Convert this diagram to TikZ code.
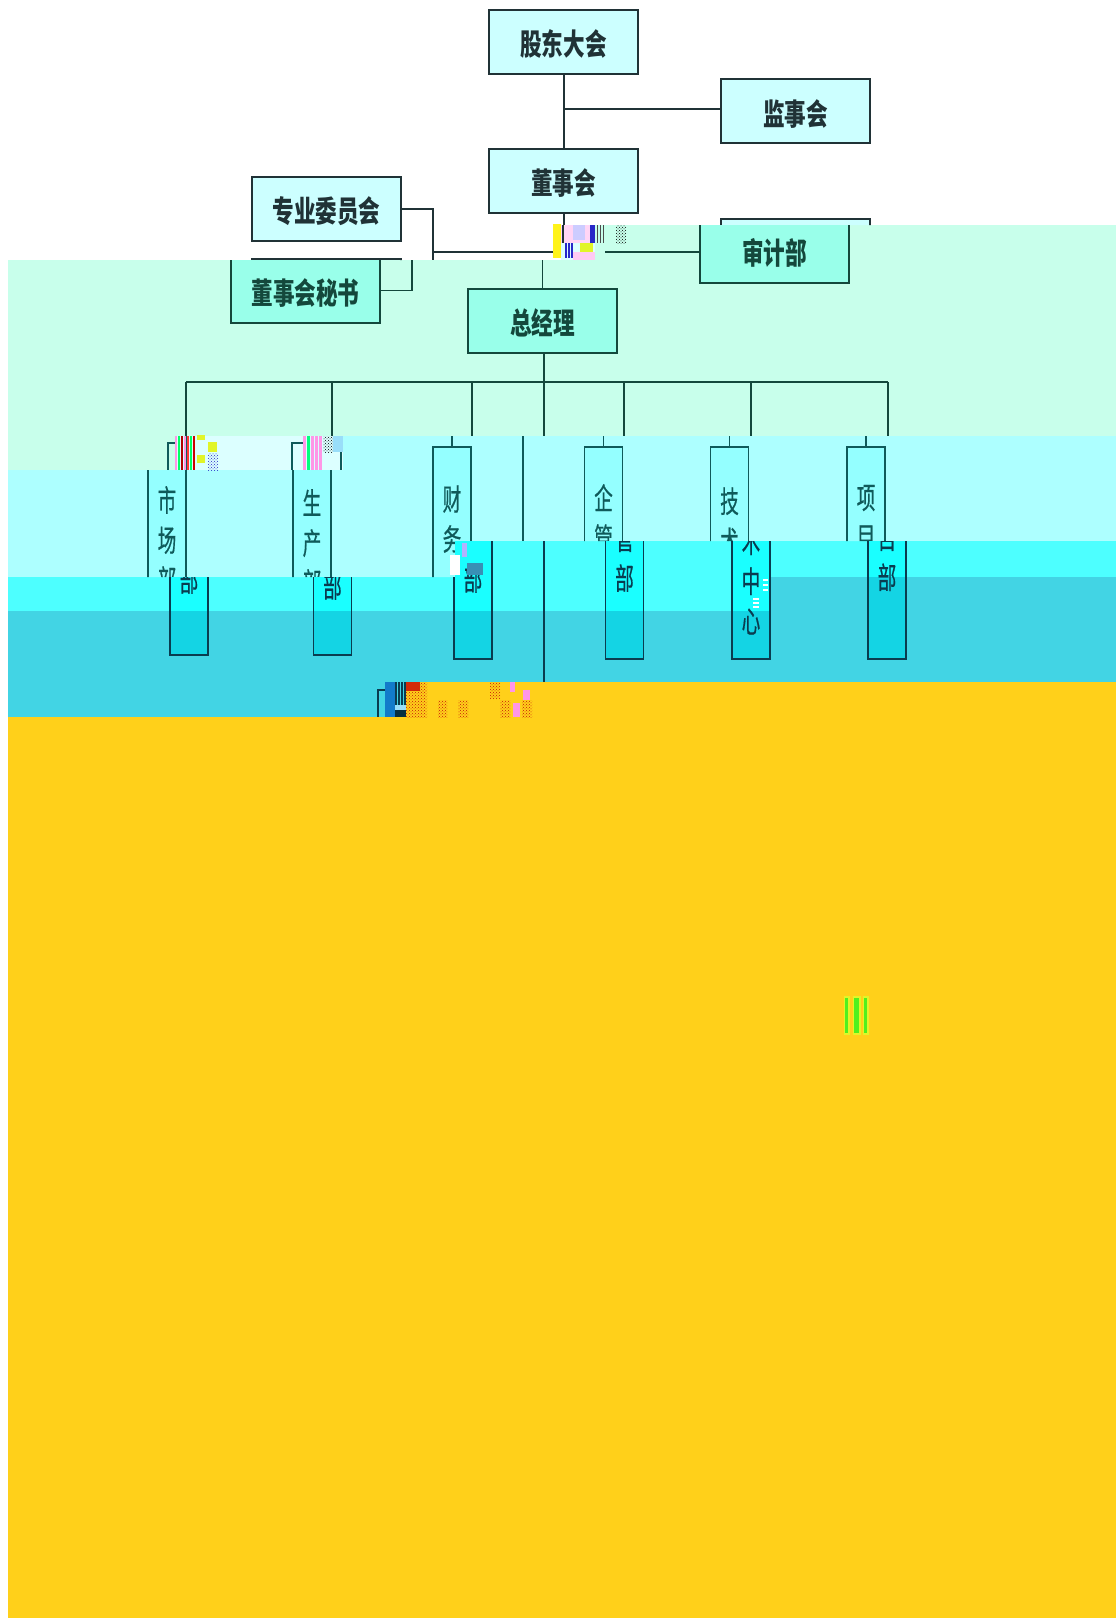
\documentclass[tikz,border=0pt]{standalone}
\usepackage{fontspec}
\usetikzlibrary{patterns}
\newfontfamily\cjkwide[FakeStretch=0.72]{Noto Sans CJK SC}
\newfontfamily\cjknarrow[FakeStretch=0.62,FakeBold=0.5]{Noto Sans CJK SC}
\definecolor{topfill}{RGB}{204,255,255}
\definecolor{mintband}{RGB}{200,255,235}
\definecolor{mintfill}{RGB}{153,255,234}
\definecolor{paleband}{RGB}{173,255,255}
\definecolor{paleglow}{RGB}{220,255,255}
\definecolor{palefill}{RGB}{148,255,255}
\definecolor{brightband}{RGB}{77,255,255}
\definecolor{brightfill}{RGB}{26,255,255}
\definecolor{darkband}{RGB}{66,212,228}
\definecolor{darkfill}{RGB}{20,212,228}
\definecolor{yellowband}{RGB}{255,208,26}
\definecolor{topink}{RGB}{32,50,54}
\definecolor{mintink}{RGB}{20,72,60}
\definecolor{paleink}{RGB}{15,90,90}
\definecolor{lowink}{RGB}{10,60,80}
\definecolor{noisered}{RGB}{200,20,10}
\definecolor{noisepink}{RGB}{255,150,230}
\definecolor{noisegreen}{RGB}{80,240,30}
\definecolor{noiselime}{RGB}{225,245,40}
\definecolor{noiseblue}{RGB}{40,40,200}
\tikzset{
  orgbox/.style={draw, line width=2pt, inner sep=0pt, minimum width=149pt, minimum height=64pt,
                 text height=27pt, text depth=0pt,
                 font=\cjkwide\bfseries\fontsize{30}{36}\selectfont},
  topbox/.style={orgbox, draw=topink, fill=topfill, text=topink},
  mintbox/.style={orgbox, draw=mintink, fill=mintfill, text=mintink},
  deptbox/.style={draw, line width=1.4pt, inner sep=0pt, minimum width=38pt},
  depttext/.style={font=\cjknarrow\fontsize{30}{40}\selectfont, align=center, inner sep=0pt},
  topline/.style={topink, line width=2pt},
  mintline/.style={mintink, line width=2pt},
  dropline/.style={mintink, line width=1.6pt},
  paleline/.style={paleink, line width=1.4pt},
  lowline/.style={lowink, line width=1.4pt}
}
\newcommand{\whitezone}{(0,0) -- (1116,0) -- (1116,225) -- (595,225) -- (595,260) -- (0,260) -- cycle}
\newcommand{\mintzone}{(595,225) -- (1116,225) -- (1116,436) -- (175,436) -- (175,470) -- (8,470) -- (8,260) -- (595,260) -- cycle}
\newcommand{\palezone}{(343,436) -- (1116,436) -- (1116,541) -- (455,541) -- (455,577) -- (8,577) -- (8,470) -- (343,470) -- cycle}
\newcommand{\brightzone}{(455,541) -- (1116,541) -- (1116,577) -- (771,577) -- (771,611) -- (8,611) -- (8,577) -- (455,577) -- cycle}
\newcommand{\darkzone}{(771,577) -- (1116,577) -- (1116,682) -- (405,682) -- (405,717) -- (8,717) -- (8,611) -- (771,611) -- cycle}
\newcommand{\lowzone}{(455,541) -- (1116,541) -- (1116,682) -- (405,682) -- (405,717) -- (8,717) -- (8,577) -- (455,577) -- cycle}
\begin{document}
\begin{tikzpicture}[x=1pt, y=-1pt]
  \useasboundingbox (0,0) rectangle (1116,1618);

  % Bands
  \fill[white] (0,0) rectangle (1116,1618);
  \fill[mintband] \mintzone;
  \fill[paleglow] (175,436) rectangle (343,470);
  \fill[paleband] \palezone;
  \fill[brightband] \brightzone;
  \fill[darkband] \darkzone;
  \fill[yellowband] (8,717) -- (405,717) -- (405,682) -- (1116,682) -- (1116,1618) -- (8,1618) -- cycle;

  % Upper part
  \begin{scope}
    \clip \whitezone;
    \node[topbox] (gudong) at (563.5,42) {股东大会};
    \node[topbox, text height=30pt] (jianshi) at (795.5,110.5) {监事会};
    \node[topbox] (dongshi) at (563.5,181) {董事会};
    \node[topbox] (zhuanye) at (326.5,209) {专业委员会};
    \node[topbox] (shenjitop) at (795.5,251) {};
    \node[topbox] (mishutop) at (326.5,290.5) {};
    \coordinate (branch) at (563.5,109);
    \coordinate (trunkend) at (563.5,243);
    \coordinate (bracket) at (433,252);
    \coordinate (crossend) at (553,252);
    \draw[topline] (gudong) -- (dongshi);
    \draw[topline] (branch) -- (jianshi.west |- branch);
    \draw[topline] (dongshi) -- (trunkend);
    \draw[topline] (zhuanye.east) -| (bracket) -- (crossend);
    \draw[topline] (bracket) -- (433,260);
  \end{scope}

  % General manager part
  \begin{scope}
    \clip \mintzone;
    \node[mintbox] (shenji) at (774.5,251) {审计部};
    \node[mintbox] (mishu) at (305.5,290.5) {董事会秘书};
    \node[mintbox] (zongjingli) at (542.5,321) {总经理};
    \coordinate (trunktop) at (542.5,260);
    \coordinate (barmid) at (544,382);
    \coordinate (auditend) at (605,252);
    \draw[dropline] (trunktop) -- (zongjingli);
    \draw[dropline] (zongjingli.south -| barmid) -- (barmid);
    \draw[mintline] (auditend) -- (shenji.west |- auditend);
    \draw[dropline] (mishu.east) -| (412,260);
    \draw[mintline] (186,382) -- (888,382);
    \foreach \x in {186,332,472,544,624,751,888}
      \draw[dropline] (\x,382) -- (\x,436);
  \end{scope}

  % Departments, upper strip
  \begin{scope}
    \clip \palezone;
    \coordinate (stubrow) at (0,436);
    \foreach \deptname/\x/\ty/\txt in {
        shichang/167/540/{市\\场\\部}, shengchan/312/543/{生\\产\\部},
        caiwu/452/539/{财\\务\\\phantom{部}}, qiguan/603.5/538/{企\\管\\\phantom{部}},
        jishu/729.5/561/{技\\术\\\phantom{中}\\\phantom{心}}, xiangmu/866/538/{项\\目\\\phantom{部}}} {
      \node[deptbox, draw=paleink, fill=palefill, minimum height=212pt] (up\deptname) at (\x,553) {};
      \node[depttext, text=paleink] (uptext\deptname) at (\x,\ty) {\txt};
    }
    \foreach \deptname in {caiwu, qiguan, jishu, xiangmu}
      \draw[paleline] (up\deptname.north |- stubrow) -- (up\deptname.north);
    \draw[paleline] (523,436) -- (523,541);
  \end{scope}

  % Scattered tops
  \draw[paleline] (187,436) -- (187,470);
  \draw[paleline] (177,443) -- (168,443) -- (168,470);
  \draw[paleline] (303,443) -- (292,443) -- (292,470);
  \draw[paleline] (341,452) -- (341,470);

  % Departments, lower strip
  \foreach \xa/\xb/\yb in {170/208/655, 313/352/655, 454/492/659, 605/644/659, 731/771/659, 867/907/659} {
    \begin{scope}
      \clip \brightzone;
      \fill[brightfill] (\xa,541) rectangle (\xb,\yb);
    \end{scope}
    \begin{scope}
      \clip \darkzone;
      \fill[darkfill] (\xa,541) rectangle (\xb,\yb);
    \end{scope}
  }
  \begin{scope}
    \clip \lowzone;
    \foreach \deptname/\x/\ty/\ybox/\txt in {
        shichang/189/540/549/{\phantom{市}\\\phantom{场}\\部}, shengchan/332.5/546/549/{\phantom{生}\\\phantom{产}\\部},
        caiwu/473/539/553/{\phantom{财}\\\phantom{务}\\部}, qiguan/624.5/538/553/{\phantom{企}\\管\\部},
        jishu/751/561/553/{\phantom{技}\\术\\中\\心}, xiangmu/887/538/553/{\phantom{项}\\目\\部}} {
      \node[deptbox, draw=lowink, minimum height=212pt] (low\deptname) at (\x,\ybox) {};
      \node[depttext, text=lowink] (lowtext\deptname) at (\x,\ty) {\txt};
    }
    \draw[lowline] (544,541) -- (544,682);
  \end{scope}

  % Noise near the board line
  \fill[paleglow] (561,225) rectangle (595,260);
  \fill[yellow!90!white] (553,224) rectangle (561,258);
  \fill[noisepink!40!white] (561,225) rectangle (595,243);
  \fill[noisepink!50!white] (573,252) rectangle (595,260);
  \foreach \x in {565,568,571}
    \fill[noiseblue] (\x,243) rectangle ++(1.6,15);
  \fill[blue!20!white] (573,225) rectangle (585,240);
  \fill[noiselime] (580,243) rectangle (593,252);
  \fill[noiseblue] (590,225) rectangle (595,243);
  \foreach \x in {597,600,603}
    \fill[black!70] (\x,225) rectangle ++(1.4,18);
  \draw[topline] (563,225) -- (563,243);
  \fill[pattern=crosshatch dots, pattern color=black] (616,225) rectangle (626,243);

  % Noise on the first tops
  \foreach \x/\c in {175/noisepink, 178/green!60!cyan, 181/red!70!black, 184/noisepink, 187/red!80, 190/green!60!cyan, 193/red!80!black}
    \fill[\c] (\x,436) rectangle ++(2.4,34);
  \fill[noiselime] (197,435) rectangle (205,440);
  \fill[noiselime] (208,442) rectangle (217,452);
  \fill[noiselime] (197,455) rectangle (205,463);
  \fill[pattern=crosshatch dots, pattern color=noiseblue] (208,453) rectangle (218,470);
  \foreach \x/\c in {303/noisepink, 307/green!50!cyan, 311/noisepink, 315/noisepink, 319/noisepink}
    \fill[\c] (\x,436) rectangle ++(2.6,34);
  \fill[pattern=crosshatch dots, pattern color=black] (323,436) rectangle (333,452);
  \fill[cyan!40!white] (333,436) rectangle (343,452);

  % Noise on the finance box
  \fill[white] (450,555) rectangle (460,575);
  \fill[blue!30!white] (462,543) rectangle (467,557);
  \fill[cyan!70!black] (467,563) rectangle (483,575);

  % Noise on the technology box
  \foreach \y in {579,584,589}
    \fill[white] (763,\y) rectangle ++(5,1.6);
  \foreach \y in {598,602,606}
    \fill[white] (753,\y) rectangle ++(6,1.6);

  % Noise at the start of the lost block
  \draw[lowline] (387,690) -- (378,690) -- (378,717);
  \fill[cyan!60!blue] (385,682) rectangle (395,717);
  \foreach \x in {395,398,401,404}
    \fill[lowink] (\x,682) rectangle ++(1.6,23);
  \fill[cyan!40!white] (395,705) rectangle (405.6,710);
  \fill[lowink!80!black] (395,710) rectangle (405.6,717);
  \fill[noisered!80!orange] (406,682) rectangle (420,691);
  \foreach \xa/\ya/\xb/\yb in {406/691/427/717, 420/682/427/691, 438/700/447/717, 458/700/468/717, 490/682/500/698, 500/700/510/717, 522/700/532/717}
    \fill[pattern=crosshatch dots, pattern color=noisered] (\xa,\ya) rectangle (\xb,\yb);
  \fill[noisepink] (510,682) rectangle (515,692);
  \fill[noisepink] (513,703) rectangle (520,717);
  \fill[noisepink] (523,690) rectangle (530,700);

  % Noise far below
  \foreach \xa/\xb in {845/848, 854/859, 864/867} {
    \fill[noiselime] (\xa-1.5,996) rectangle (\xb+1.5,1035);
    \fill[noisegreen] (\xa,998) rectangle (\xb,1033);
  }
\end{tikzpicture}
\end{document}
